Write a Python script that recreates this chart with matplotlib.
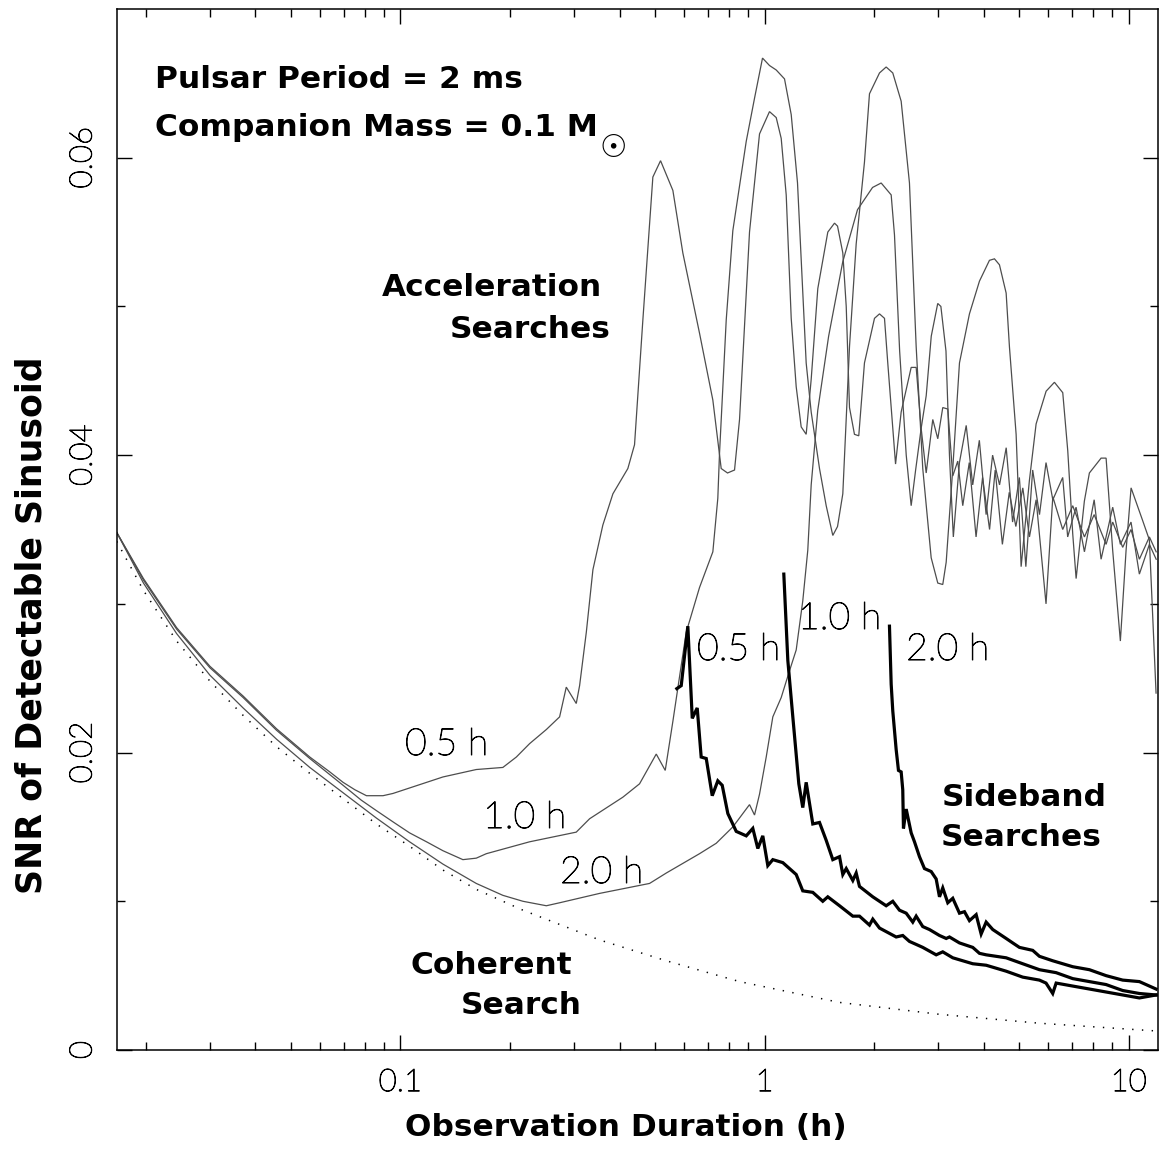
import matplotlib
matplotlib.use("Agg")
import matplotlib.pyplot as plt
import matplotlib.patheffects as pe
from matplotlib.ticker import FixedLocator, NullFormatter, LogLocator
import numpy as np

# ---------------- data ----------------
# Coherent search limit (dotted)
coh_x = [0.01664, 0.0197, 0.0243, 0.0300, 0.0370, 0.0457, 0.0564, 0.0696,
         0.0859, 0.1060, 0.1309, 0.1616, 0.2171, 0.3524, 0.5373, 0.854, 1.606,
         3.023, 5.686, 11.91]
coh_y = [0.0342, 0.0309, 0.0275, 0.0248, 0.0225, 0.0204, 0.0186, 0.0169,
         0.0152, 0.0137, 0.0121, 0.0108, 0.0094, 0.0074, 0.0060, 0.0046, 0.0032,
         0.0024, 0.0018, 0.00128]

# Acceleration searches, orbital period 0.5 h
acc05_x = [0.01664, 0.0197, 0.0243, 0.0300, 0.0370, 0.0457, 0.0564, 0.0640,
           0.0696, 0.0750, 0.0807, 0.0896, 0.0954,
           0.1309, 0.1616, 0.1912, 0.2082, 0.2264, 0.2517, 0.2737, 0.2855, 0.3041,
           0.3106, 0.3241, 0.3379, 0.3598, 0.3834, 0.4214, 0.4396, 0.4634, 0.4936,
           0.5182, 0.5602, 0.5966, 0.6630, 0.7213, 0.7604, 0.7914, 0.8273, 0.8539,
           0.9095, 0.9689, 1.032, 1.0767, 1.1113, 1.147, 1.1839, 1.2218, 1.2609,
           1.3014, 1.3433, 1.4006, 1.4921, 1.5567, 1.5867, 1.6406, 1.6764, 1.7115,
           1.7660, 1.8147, 1.8813, 2.0045, 2.0690, 2.1353, 2.1800, 2.29, 2.3727,
           2.5278, 2.6089, 2.6925, 2.7794, 2.8978, 2.9908, 3.0866, 3.1862, 3.2883,
           3.3937, 3.5025, 3.65, 3.81, 3.97, 4.15, 4.30, 4.50, 4.70, 4.90, 5.12,
           5.34, 5.57, 5.93, 6.19, 6.59, 7.02, 7.56, 8.04, 8.67, 9.04, 9.63, 10.15,
           10.7, 11.4, 11.9]
acc05_y = [0.0348, 0.0317, 0.0284, 0.0258, 0.0238, 0.0216, 0.0197, 0.0187,
           0.0180, 0.0175, 0.0171, 0.0171, 0.01725,
           0.01836, 0.01886, 0.0190, 0.0197, 0.0206, 0.02155, 0.0224, 0.0244, 0.0233,
           0.0245, 0.0281, 0.0323, 0.0353, 0.0374, 0.0391, 0.0407, 0.0491, 0.0587,
           0.0598, 0.0578, 0.0536, 0.0482, 0.0437, 0.0391, 0.0388, 0.0390, 0.0424,
           0.0550, 0.0616, 0.0631, 0.0627, 0.0613, 0.0575, 0.0492, 0.0446, 0.0419,
           0.0414, 0.0451, 0.0512, 0.0550, 0.0556, 0.0554, 0.0536, 0.0500, 0.0432,
           0.0414, 0.0413, 0.0462, 0.0492, 0.0495, 0.0492, 0.0462, 0.0394, 0.0429,
           0.0459, 0.0459, 0.0418, 0.0388, 0.0424, 0.0411, 0.0432, 0.0431, 0.0386,
           0.0396, 0.0366, 0.0395, 0.0345, 0.0385, 0.0350, 0.0390, 0.0340, 0.0375,
           0.0352, 0.0378, 0.0345, 0.0370, 0.0300, 0.0372, 0.0350, 0.0366, 0.0345,
           0.0360, 0.0340, 0.0355, 0.0338, 0.0350, 0.0330, 0.0345, 0.0335]

# Acceleration searches, orbital period 1.0 h
acc10_x = [0.01664, 0.0197, 0.0243, 0.0300, 0.0370, 0.0457, 0.0564, 0.0696,
           0.0781, 0.0859, 0.0960, 0.1060, 0.1180, 0.1309, 0.1485, 0.1616, 0.1722,
           0.2264, 0.3041, 0.3309, 0.4083, 0.4538,
           0.5043, 0.5338, 0.5602, 0.5843, 0.6096, 0.6630, 0.7213, 0.7443, 0.7523,
           0.7850, 0.8185, 0.8908, 0.9388, 0.9874, 1.032, 1.0767, 1.1348, 1.1839,
           1.2320, 1.3014, 1.3433, 1.4158, 1.4770, 1.5400, 1.5867, 1.6406, 1.7115,
           1.7853, 1.8813, 1.9420, 2.0690, 2.1580, 2.2502, 2.3727, 2.5006, 2.6089,
           2.7199, 2.8686, 2.9908, 3.0866, 3.1541, 3.2883, 3.4306, 3.6540, 3.8928,
           4.1465, 4.2804, 4.4173, 4.6082, 4.7048, 4.9083, 5.0664, 5.3384, 5.5695,
           5.9335, 6.2541, 6.5917, 6.8033, 7.0213, 7.1732, 7.5560, 7.8002, 8.4003,
           8.6699, 9.0389, 9.4884, 9.8377, 10.1532, 10.925, 11.399, 11.891]
acc10_y = [0.0348, 0.0316, 0.0283, 0.0257, 0.0237, 0.0215, 0.0196, 0.0178,
           0.0168, 0.0161, 0.0153, 0.0146, 0.0140, 0.0134, 0.0128, 0.0129, 0.0132,
           0.0140, 0.01465, 0.01555, 0.0170, 0.0179,
           0.0199, 0.0188, 0.0221, 0.0251, 0.0281, 0.0311, 0.0335, 0.0371, 0.0401,
           0.0491, 0.0551, 0.0611, 0.0640, 0.0667, 0.0662, 0.0659, 0.0653, 0.0629,
           0.0583, 0.0462, 0.0429, 0.0391, 0.0366, 0.0346, 0.0352, 0.0374, 0.0473,
           0.0542, 0.0597, 0.0643, 0.0657, 0.0661, 0.0657, 0.0638, 0.0583, 0.0473,
           0.0391, 0.0331, 0.0314, 0.0313, 0.0328, 0.0391, 0.0462, 0.0495, 0.0517,
           0.0531, 0.0532, 0.0528, 0.0509, 0.0473, 0.0414, 0.0325, 0.0383, 0.0421,
           0.0443, 0.0449, 0.0442, 0.0403, 0.0347, 0.0317, 0.0369, 0.0388, 0.0398,
           0.0398, 0.0336, 0.0275, 0.0336, 0.0378, 0.0356, 0.0343, 0.0240]

# Acceleration searches, orbital period 2.0 h
acc20_x = [0.01664, 0.0197, 0.0243, 0.0300, 0.0370, 0.0457, 0.0564, 0.0696,
           0.0859, 0.1060, 0.1309, 0.1616, 0.1912, 0.2171, 0.2517,
           0.2737, 0.3524, 0.4834, 0.5373, 0.6630, 0.7368, 0.8185, 0.9095, 0.9388,
           0.9689, 1.0108, 1.0539, 1.1113, 1.1712, 1.2218, 1.2737, 1.3146, 1.3433,
           1.40, 1.50, 1.64, 1.80, 1.98, 2.0910, 2.2275, 2.2747, 2.35, 2.45, 2.5278,
           2.60, 2.6925, 2.78, 2.87, 2.99, 3.05, 3.15, 3.22, 3.30, 3.43, 3.58, 3.73,
           3.89, 4.06, 4.23, 4.42, 4.61, 4.80, 5.01, 5.22, 5.45, 5.69, 5.93, 6.19,
           6.59, 6.80, 7.17, 7.56, 8.04, 8.40, 9.04, 9.49, 10.15, 10.7, 11.4, 11.9]
acc20_y = [0.0348, 0.0314, 0.0280, 0.0252, 0.0230, 0.0209, 0.0190, 0.0173,
           0.0156, 0.0140, 0.0125, 0.0112, 0.0104, 0.0100, 0.0097,
           0.0099, 0.01053, 0.0112, 0.0119, 0.0132, 0.0139, 0.0150, 0.0165, 0.0158,
           0.0172, 0.0197, 0.0224, 0.0237, 0.0255, 0.0269, 0.0302, 0.0336, 0.0380,
           0.0430, 0.0480, 0.0530, 0.0565, 0.0580, 0.0583, 0.0575, 0.0548, 0.0470,
           0.0400, 0.0366, 0.0390, 0.0418, 0.0440, 0.0480, 0.0502, 0.0500, 0.0470,
           0.0400, 0.0345, 0.0395, 0.0420, 0.0380, 0.0410, 0.0360, 0.0400, 0.0380,
           0.0405, 0.0355, 0.0385, 0.0325, 0.0390, 0.0360, 0.0395, 0.0370, 0.0385,
           0.0345, 0.0365, 0.0335, 0.0370, 0.0330, 0.0365, 0.0340, 0.0355, 0.0320,
           0.0340, 0.0330]

# Sideband searches
sb05_x = [0.5744, 0.5906, 0.6158, 0.6332, 0.6534, 0.6700, 0.6918, 0.7185, 0.7443,
          0.7653, 0.7930, 0.8362, 0.8908, 0.9287, 0.9585, 0.9892, 1.0211, 1.0539,
          1.1226, 1.2218, 1.2737, 1.3570, 1.4454, 1.4921, 1.6069, 1.7477, 1.8231,
          1.9420, 1.9830, 2.0690, 2.2989, 2.3968, 2.5006, 2.6089, 2.7199, 2.9607,
          3.0866, 3.2883, 3.5025, 3.7313, 4.0612, 4.6082, 5.1180, 5.6872, 5.93,
          6.1867, 6.3222, 7.0213, 8.6699, 10.700, 11.891]
sb05_y = [0.0243, 0.0245, 0.0285, 0.0223, 0.0230, 0.0197, 0.0196, 0.0171, 0.0181,
          0.0178, 0.0159, 0.0147, 0.0144, 0.0149, 0.01355, 0.0144, 0.0124, 0.0128,
          0.0126, 0.0118, 0.0107, 0.0106, 0.0100, 0.0103, 0.0097, 0.0090, 0.0090,
          0.0084, 0.0088, 0.0082, 0.0076, 0.0077, 0.0073, 0.0071, 0.0069, 0.0064,
          0.0066, 0.0062, 0.0060, 0.0058, 0.0057, 0.0053, 0.0049, 0.0047, 0.0045,
          0.0038, 0.0045, 0.0043, 0.0039, 0.0035, 0.0037]

sb10_x = [1.1298, 1.1588, 1.1960, 1.2422, 1.2737, 1.3014, 1.3570, 1.4158, 1.4770,
          1.5400, 1.6069, 1.6406, 1.6764, 1.7477, 1.7853, 1.8231, 1.9830, 2.1580,
          2.2502, 2.3476, 2.4494, 2.5535, 2.6089, 2.7199, 2.8378, 3.0234, 3.1541,
          3.2202, 3.4306, 3.7313, 3.8928, 4.0612, 4.6082, 5.1180, 5.6872, 6.3222,
          7.0213, 7.8002, 8.6699, 9.6272, 10.700, 11.891]
sb10_y = [0.0320, 0.0262, 0.0224, 0.0179, 0.0163, 0.0180, 0.0152, 0.0153, 0.0141,
          0.0128, 0.0130, 0.0118, 0.0122, 0.0114, 0.0119, 0.0110, 0.0103, 0.0097,
          0.0100, 0.0094, 0.0092, 0.0086, 0.0090, 0.0083, 0.0081, 0.0077, 0.0075,
          0.0076, 0.0072, 0.0069, 0.0065, 0.0064, 0.0062, 0.0058, 0.0054, 0.0052,
          0.0048, 0.0046, 0.0044, 0.0040, 0.0038, 0.0037]

sb20_x = [2.2036, 2.2275, 2.2502, 2.2989, 2.3326, 2.3727, 2.3968, 2.4074, 2.4494,
          2.5278, 2.5813, 2.6640, 2.7495, 2.8686, 2.9607, 3.0234, 3.0866, 3.1862,
          3.2883, 3.4306, 3.5406, 3.6540, 3.8122, 3.9343, 4.0612, 4.2343, 4.4173,
          4.6082, 4.8043, 5.0119, 5.4515, 5.6872, 6.1867, 7.0213, 7.8002, 8.6699,
          9.6272, 10.700, 11.891]
sb20_y = [0.0285, 0.0246, 0.0228, 0.0202, 0.0188, 0.0187, 0.0175, 0.0149, 0.0162,
          0.0146, 0.0140, 0.0130, 0.0122, 0.0120, 0.0115, 0.0103, 0.0109, 0.0099,
          0.0102, 0.0092, 0.0093, 0.0087, 0.0091, 0.0078, 0.0086, 0.0081, 0.0078,
          0.0075, 0.0072, 0.0069, 0.0067, 0.0063, 0.0060, 0.0056, 0.0054, 0.0050,
          0.0047, 0.0046, 0.0041]

x_major = [0.1, 1, 10]
x_major_labels = ["0.1", "1", "10"]
y_major = [0, 0.02, 0.04, 0.06]
y_major_labels = ["0", "0.02", "0.04", "0.06"]
y_minor = [0.01, 0.03, 0.05]

# ---------------- figure ----------------
W, H = 1160, 1150
fig = plt.figure(figsize=(W / 100, H / 100), dpi=100)
ax = fig.add_axes([117 / W, 100 / H, 1040.5 / W, 1041 / H])

BOLD = dict(family=["DejaVu Sans"], weight="bold")
THIN = dict(family=["Lato", "DejaVu Sans"], weight="light")
THIN_FX = [pe.withStroke(linewidth=0.7, foreground="black")]
BSIZE = 22.5

acc_style = dict(color="#4d4d4d", lw=0.9, solid_joinstyle="miter")
sb_style = dict(color="black", lw=2.3, solid_joinstyle="miter")

ax.plot(coh_x, coh_y, color="black", lw=1.1, linestyle=(0, (0.9, 5.5)))
ax.plot(acc05_x, acc05_y, **acc_style)
ax.plot(acc10_x, acc10_y, **acc_style)
ax.plot(acc20_x, acc20_y, **acc_style)
ax.plot(sb05_x, sb05_y, **sb_style)
ax.plot(sb10_x, sb10_y, **sb_style)
ax.plot(sb20_x, sb20_y, **sb_style)

ax.set_xscale("log")
ax.set_xlim(1 / 60, 12)
ax.set_ylim(0, 0.07)

ax.xaxis.set_major_locator(FixedLocator(x_major))
ax.set_xticklabels(x_major_labels)
ax.xaxis.set_minor_locator(LogLocator(base=10, subs=np.arange(2, 10)))
ax.xaxis.set_minor_formatter(NullFormatter())
ax.yaxis.set_major_locator(FixedLocator(y_major))
ax.set_yticklabels(y_major_labels)
ax.yaxis.set_minor_locator(FixedLocator(y_minor))

ax.tick_params(which="both", direction="in", top=True, right=True, width=1.0,
               color="black")
ax.tick_params(which="major", length=11)
ax.tick_params(which="minor", length=5.5)
ax.tick_params(axis="x", which="major", pad=13)
ax.tick_params(axis="y", which="major", pad=14, labelrotation=90)
for t in ax.get_xticklabels() + ax.get_yticklabels():
    t.set_fontfamily(THIN["family"])
    t.set_fontweight("light")
    t.set_fontsize(22.5)
    t.set_color("black")
    t.set_path_effects(THIN_FX)
for t in ax.get_yticklabels():
    t.set_verticalalignment("center")
for s in ax.spines.values():
    s.set_linewidth(1.1)


def ftext(px, py, s, size, ha="left", va="center", style=BOLD, **kw):
    return fig.text(px / W, 1 - py / H, s, fontsize=size, ha=ha, va=va,
                    **style, **kw)


# axis titles
ftext(626, 1128, "Observation Duration (h)", BSIZE, ha="center")
ftext(32, 625, "SNR of Detectable Sinusoid", 25, ha="center", rotation=90)

# annotations
ftext(155, 80, "Pulsar Period = 2 ms", BSIZE)
mass = ftext(155, 128, "Companion Mass = 0.1 M", BSIZE)
plt.annotate("\u2609", xy=(1, 0), xycoords=mass, xytext=(1.5, -4.5),
             textcoords="offset points", ha="left", va="center",
             fontsize=22, family=["DejaVu Sans"])

ftext(492, 287, "Acceleration", BSIZE, ha="center")
ftext(530, 329, "Searches", BSIZE, ha="center")
ftext(1024, 798, "Sideband", BSIZE, ha="center")
ftext(1021, 838, "Searches", BSIZE, ha="center")
ftext(491, 965, "Coherent", BSIZE, ha="center")
ftext(521, 1005, "Search", BSIZE, ha="center")

# period labels
for px, py, s in [(405, 745, "0.5 h"), (483, 818, "1.0 h"), (560, 873, "2.0 h"),
                  (697, 650, "0.5 h"), (798, 619, "1.0 h"), (906, 650, "2.0 h")]:
    lab = ftext(px, py, s, 27, style=THIN)
    lab.set_path_effects(THIN_FX)

fig.savefig("out.png", dpi=100)
